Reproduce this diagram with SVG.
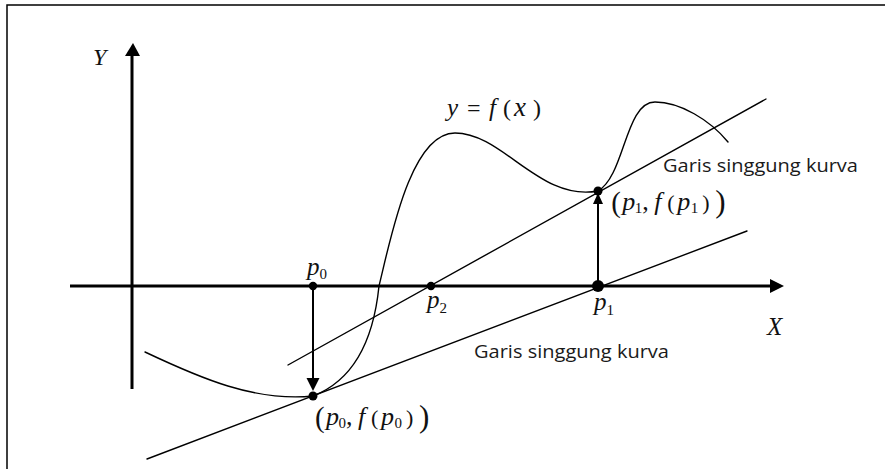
<svg xmlns="http://www.w3.org/2000/svg" width="885" height="469" viewBox="0 0 885 469">
  <style>
    .thin { fill: none; stroke: #000; stroke-width: 1.4; stroke-linecap: round; }
    .axis { fill: none; stroke: #000; stroke-width: 3; }
    .arr { fill: none; stroke: #000; stroke-width: 2; }
    .math { font-family: "Liberation Serif", "DejaVu Serif", serif; font-style: italic; fill: #111; }
    .up { font-family: "Liberation Serif", "DejaVu Serif", serif; font-style: normal; fill: #111; }
    .lbl { font-family: "Open Sans", "Liberation Sans", sans-serif; font-size: 17.5px; fill: #1a1a1a; }
    .dot { fill: #000; }
  </style>
  <rect width="885" height="469" fill="#fff"/>
  <g id="frame">
    <path d="M7,469 V5 H885" fill="none" stroke="#000" stroke-width="1.5"/>
  </g>

  <g id="axes">
    <line class="axis" x1="132" y1="55" x2="132" y2="389"/>
    <path d="M125,56 L133,43 L140,56 Z" fill="#000"/>
    <line class="axis" x1="70" y1="286" x2="771" y2="286"/>
    <path d="M770,279 L784,286 L770,293 Z" fill="#000"/>
    <text class="math" x="93" y="65" font-size="24">Y</text>
    <text class="math" x="767" y="335" font-size="25">X</text>
  </g>

  <g id="curve">
    <path class="thin" d="M145,352 C200,378 255,402 313,396 C350,381.7 373,345 379,286 C390,242 410,133 455,133 C503,133 540,202 598,191 C625,175.6 625,102 655,102 C680,102 710,120 728,142"/>
    <text class="math" x="447" y="116" font-size="25">y</text>
    <text class="up" x="467" y="116" font-size="24">=</text>
    <text class="math" x="489" y="116" font-size="25">f</text>
    <text class="up" x="503" y="116" font-size="24">(</text>
    <text class="math" x="514" y="116" font-size="27">x</text>
    <text class="up" x="533" y="116" font-size="24">)</text>
  </g>

  <g id="tangent-lower">
    <line class="thin" x1="147" y1="459" x2="747" y2="231"/>
    <text class="lbl" x="474" y="358" textLength="195" lengthAdjust="spacingAndGlyphs">Garis singgung kurva</text>
  </g>

  <g id="tangent-upper">
    <line class="thin" x1="288" y1="365" x2="766" y2="99"/>
    <text class="lbl" x="663" y="172" textLength="195" lengthAdjust="spacingAndGlyphs">Garis singgung kurva</text>
  </g>

  <g id="p0">
    <circle class="dot" cx="313" cy="286" r="4.2"/>
    <text class="math" x="307" y="275" font-size="25">p</text>
    <text class="up" x="319.5" y="279" font-size="15">0</text>
  </g>

  <g id="p2">
    <circle class="dot" cx="431" cy="286" r="4.2"/>
    <text class="math" x="427" y="308" font-size="25">p</text>
    <text class="up" x="439.5" y="313" font-size="15">2</text>
  </g>

  <g id="p1">
    <circle class="dot" cx="598" cy="286" r="6"/>
    <text class="math" x="594" y="310" font-size="25">p</text>
    <text class="up" x="606.5" y="315" font-size="15">1</text>
  </g>

  <g id="point-p0">
    <circle class="dot" cx="313" cy="396" r="4.5"/>
    <text class="up" x="315" y="427" font-size="29">(</text>
    <text class="math" x="326" y="425" font-size="26">p</text>
    <text class="up" x="338.5" y="428" font-size="15">0</text>
    <text class="up" x="346" y="425" font-size="26">,</text>
    <text class="math" x="358" y="425" font-size="26">f</text>
    <text class="up" x="371" y="425" font-size="22">(</text>
    <text class="math" x="381" y="425" font-size="26">p</text>
    <text class="up" x="394.5" y="428" font-size="15">0</text>
    <text class="up" x="406" y="425" font-size="22">)</text>
    <text class="up" x="419" y="427" font-size="31">)</text>
  </g>

  <g id="point-p1">
    <circle class="dot" cx="598" cy="191" r="4.5"/>
    <text class="up" x="611.3" y="212" font-size="29">(</text>
    <text class="math" x="622.3" y="210" font-size="26">p</text>
    <text class="up" x="634.8" y="213" font-size="15">1</text>
    <text class="up" x="642.3" y="210" font-size="26">,</text>
    <text class="math" x="654.3" y="210" font-size="26">f</text>
    <text class="up" x="667.3" y="210" font-size="22">(</text>
    <text class="math" x="677.3" y="210" font-size="26">p</text>
    <text class="up" x="690.8" y="213" font-size="15">1</text>
    <text class="up" x="702.3" y="210" font-size="22">)</text>
    <text class="up" x="715.3" y="212" font-size="31">)</text>
  </g>

  <g id="connectors">
    <line class="arr" x1="313" y1="286" x2="313" y2="380"/>
    <path d="M306.5,378 L319.5,378 L313,391 Z" fill="#000"/>
    <line class="arr" x1="598" y1="286" x2="598" y2="202"/>
    <path d="M593,204 L603,204 L598,193 Z" fill="#000"/>
  </g>
</svg>
